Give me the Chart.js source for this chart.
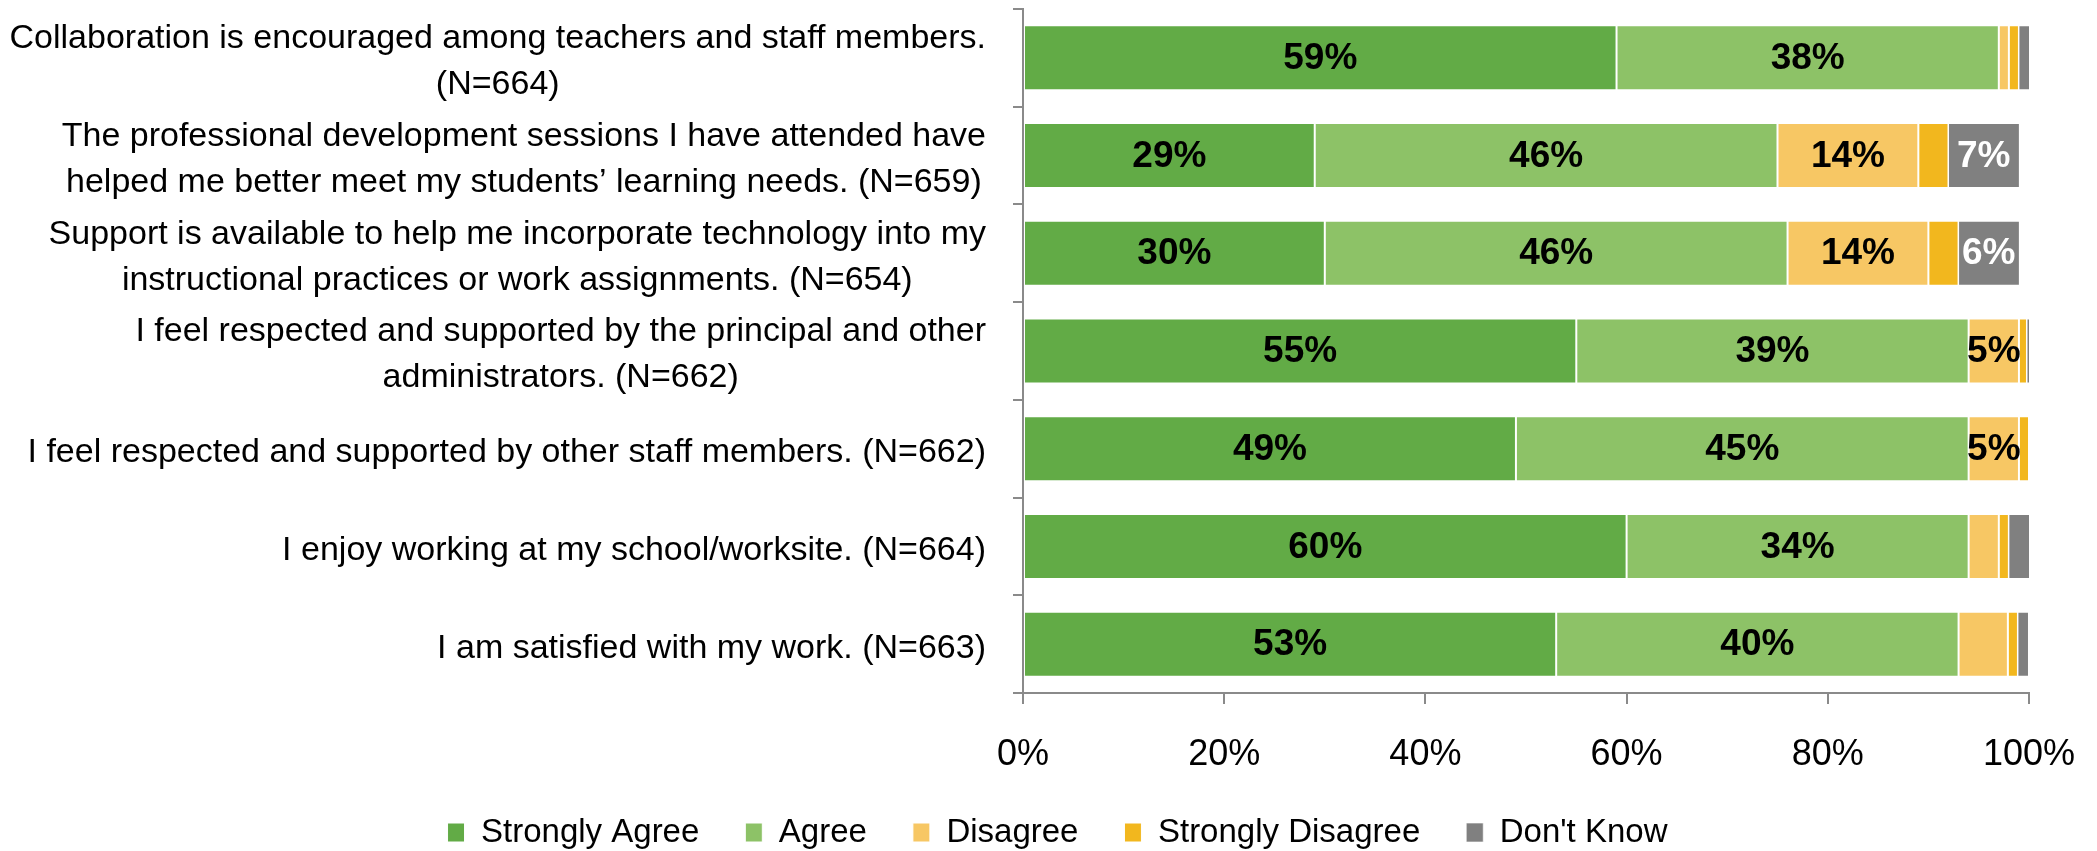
<!DOCTYPE html>
<html><head><meta charset="utf-8">
<script src="https://cdn.jsdelivr.net/npm/chart.js@4/dist/chart.umd.min.js"></script>
<style>html,body{margin:0;padding:0;background:#fff}#wrap{width:2097px;height:851px;position:relative}</style>
</head><body><div id="wrap"><canvas id="c" width="2097" height="851"></canvas></div>
<script>
const categories = [
  ["Collaboration is encouraged among teachers and staff members.", "(N=664)"],
  ["The professional development sessions I have attended have", "helped me better meet my students\u2019 learning needs. (N=659)"],
  ["Support is available to help me incorporate technology into my", "instructional practices or work assignments. (N=654)"],
  ["I feel respected and supported by the principal and other", "administrators. (N=662)"],
  "I feel respected and supported by other staff members. (N=662)",
  "I enjoy working at my school/worksite. (N=664)",
  "I am satisfied with my work. (N=663)"
];
const seriesNames = ["Strongly Agree", "Agree", "Disagree", "Strongly Disagree", "Don't Know"];
const stronglyAgree    = [59, 29, 30, 55, 49, 60, 53];
const agree            = [38, 46, 46, 39, 45, 34, 40];
const disagree         = [1, 14, 14, 5, 5, 3, 4.9];
const stronglyDisagree = [1, 3, 3, 0.8, 1, 1, 1];
const dontKnow         = [1, 7, 6, 0.3, 0, 2, 1];
const xTickValues = [0, 20, 40, 60, 80, 100];
const seriesColors = ["#62AB46", "#8DC267", "#F7C764", "#F2B71E", "#808080"];
const labelColors = ["#000", "#000", "#000", "#000", "#fff"];

const FONT = "'Liberation Sans', Arial, sans-serif";
const AXIS = "#8a8a8a";

const seriesData = [stronglyAgree, agree, disagree, stronglyDisagree, dontKnow];
const datasets = seriesNames.map((n, i) => ({
  label: n,
  data: seriesData[i],
  backgroundColor: seriesColors[i],
  borderColor: "#ffffff",
  borderWidth: i === 4 ? { left: 0.5, right: 0, top: 1, bottom: 1 } : 1,
  borderSkipped: false,
  barPercentage: 0.665,
  categoryPercentage: 1.0
}));

const barLabels = {
  id: "barLabels",
  afterDatasetsDraw(chart) {
    const ctx = chart.ctx;
    ctx.save();
    ctx.font = "bold 37px " + FONT;
    ctx.textAlign = "center";
    ctx.textBaseline = "middle";
    chart.data.datasets.forEach((ds, i) => {
      const meta = chart.getDatasetMeta(i);
      meta.data.forEach((el, j) => {
        const v = ds.data[j];
        if (v < 5) return;
        const p = el.getProps(["x", "y", "base"], true);
        ctx.fillStyle = labelColors[i];
        ctx.fillText(Math.round(v) + "%", (p.x + p.base) / 2, p.y + 1);
      });
    });
    ctx.restore();
  }
};

const yLabels = {
  id: "yLabels",
  afterDraw(chart) {
    const ctx = chart.ctx;
    const ys = chart.scales.y;
    const right = 986;
    const lh = 46;
    ctx.save();
    ctx.font = "34px " + FONT;
    ctx.fillStyle = "#000";
    ctx.textAlign = "center";
    ctx.textBaseline = "middle";
    categories.forEach((lab, j) => {
      const lines = Array.isArray(lab) ? lab : [lab];
      const w = Math.max(...lines.map(l => ctx.measureText(l).width));
      const cx = right - w / 2;
      const yc = ys.getPixelForValue(j) + 4;
      lines.forEach((l, k) => {
        ctx.fillText(l, cx, yc + (k - (lines.length - 1) / 2) * lh);
      });
    });
    ctx.restore();
  }
};

const legendFix = {
  id: "legendFix",
  beforeLayout(chart) {
    const lg = chart.legend;
    if (lg && !lg._patched) {
      const f = lg.fit;
      lg.fit = function () { f.call(this); this.height = 81; };
      const d = lg.draw;
      lg.draw = function (a) {
        const c = this.ctx;
        c.save();
        c.translate(43, 0);
        d.call(this, a);
        c.restore();
      };
      lg._patched = true;
    }
  }
};

new Chart(document.getElementById("c"), {
  type: "bar",
  data: { labels: categories, datasets },
  options: {
    indexAxis: "y",
    responsive: false,
    animation: false,
    devicePixelRatio: 1,
    layout: { padding: { top: 9, right: 68, left: 0, bottom: 0 } },
    plugins: {
      tooltip: { enabled: false },
      legend: {
        position: "bottom",
        labels: {
          font: { family: FONT, size: 33 },
          color: "#000",
          boxWidth: 17,
          boxHeight: 19,
          padding: 46
        }
      }
    },
    scales: {
      x: {
        stacked: true,
        min: 0,
        max: 100,
        afterBuildTicks(s) { s.ticks = xTickValues.map(v => ({ value: v })); },
        afterFit(s) { s.height = 77; s.paddingLeft = 0; s.paddingRight = 0; },
        ticks: {
          font: { family: FONT, size: 36 },
          color: "#000",
          padding: 29,
          callback: v => v + "%"
        },
        grid: { drawOnChartArea: false, drawTicks: true, tickLength: 11, color: AXIS, lineWidth: 2 },
        border: { display: true, color: AXIS, width: 2 }
      },
      y: {
        stacked: true,
        afterFit(s) { s.width = 1023; },
        ticks: { display: false },
        grid: { drawOnChartArea: false, drawTicks: true, offset: true, tickLength: 10, color: AXIS, lineWidth: 2 },
        border: { display: true, color: AXIS, width: 2 }
      }
    }
  },
  plugins: [barLabels, yLabels, legendFix]
});
</script>
</body></html>
